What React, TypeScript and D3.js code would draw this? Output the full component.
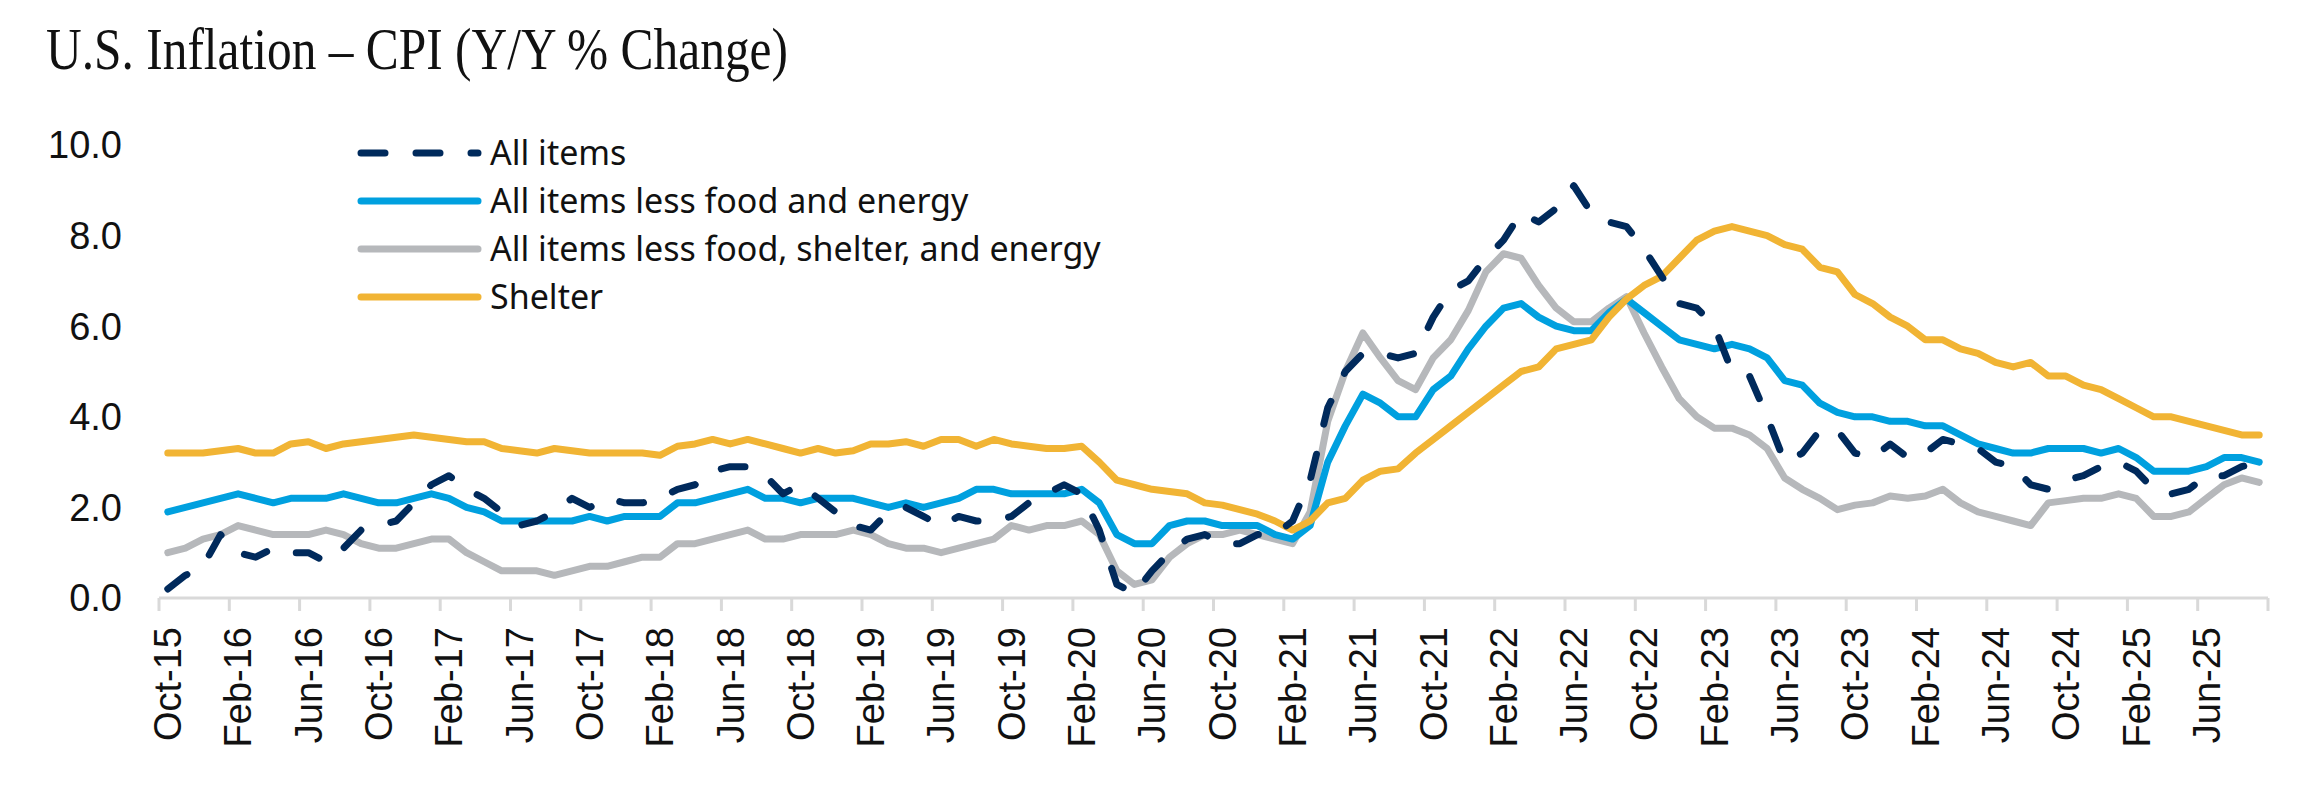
import * as d3 from 'd3'

// monthly, Oct-15 .. Sep-25 (Y/Y % change)
const months = d3.timeMonth.range(new Date(2015, 9, 1), new Date(2025, 9, 1))
const monthLabels = months.map(d => d3.timeFormat('%b-%y')(d))

const allItems = [
  0.2, 0.5, 0.7,
  1.4, 1.0, 0.9, 1.1, 1.0, 1.0, 0.8, 1.1, 1.5, 1.6, 1.7, 2.1,
  2.5, 2.7, 2.4, 2.2, 1.9, 1.6, 1.7, 1.9, 2.2, 2.0, 2.2, 2.1,
  2.1, 2.2, 2.4, 2.5, 2.8, 2.9, 2.9, 2.7, 2.3, 2.5, 2.2, 1.9,
  1.6, 1.5, 1.9, 2.0, 1.8, 1.6, 1.8, 1.7, 1.7, 1.8, 2.1, 2.3,
  2.5, 2.3, 1.5, 0.3, 0.1, 0.6, 1.0, 1.3, 1.4, 1.2, 1.2, 1.4,
  1.4, 1.7, 2.6, 4.2, 5.0, 5.4, 5.4, 5.3, 5.4, 6.2, 6.8, 7.0,
  7.5, 7.9, 8.5, 8.3, 8.6, 9.1, 8.5, 8.3, 8.2, 7.7, 7.1, 6.5,
  6.4, 6.0, 5.0, 4.9, 4.0, 3.0, 3.2, 3.7, 3.7, 3.2, 3.1, 3.4,
  3.1, 3.2, 3.5, 3.4, 3.3, 3.0, 2.9, 2.5, 2.4, 2.6, 2.7, 2.9,
  3.0, 2.8, 2.4, 2.3, 2.4, 2.7, 2.7, 2.9, 3.0
]

const lessFoodEnergy = [
  1.9, 2.0, 2.1,
  2.2, 2.3, 2.2, 2.1, 2.2, 2.2, 2.2, 2.3, 2.2, 2.1, 2.1, 2.2,
  2.3, 2.2, 2.0, 1.9, 1.7, 1.7, 1.7, 1.7, 1.7, 1.8, 1.7, 1.8,
  1.8, 1.8, 2.1, 2.1, 2.2, 2.3, 2.4, 2.2, 2.2, 2.1, 2.2, 2.2,
  2.2, 2.1, 2.0, 2.1, 2.0, 2.1, 2.2, 2.4, 2.4, 2.3, 2.3, 2.3,
  2.3, 2.4, 2.1, 1.4, 1.2, 1.2, 1.6, 1.7, 1.7, 1.6, 1.6, 1.6,
  1.4, 1.3, 1.6, 3.0, 3.8, 4.5, 4.3, 4.0, 4.0, 4.6, 4.9, 5.5,
  6.0, 6.4, 6.5, 6.2, 6.0, 5.9, 5.9, 6.3, 6.6, 6.3, 6.0, 5.7,
  5.6, 5.5, 5.6, 5.5, 5.3, 4.8, 4.7, 4.3, 4.1, 4.0, 4.0, 3.9,
  3.9, 3.8, 3.8, 3.6, 3.4, 3.3, 3.2, 3.2, 3.3, 3.3, 3.3, 3.2,
  3.3, 3.1, 2.8, 2.8, 2.8, 2.9, 3.1, 3.1, 3.0
]

const lessFoodShelterEnergy = [
  1.0, 1.1, 1.3,
  1.4, 1.6, 1.5, 1.4, 1.4, 1.4, 1.5, 1.4, 1.2, 1.1, 1.1, 1.2,
  1.3, 1.3, 1.0, 0.8, 0.6, 0.6, 0.6, 0.5, 0.6, 0.7, 0.7, 0.8,
  0.9, 0.9, 1.2, 1.2, 1.3, 1.4, 1.5, 1.3, 1.3, 1.4, 1.4, 1.4,
  1.5, 1.4, 1.2, 1.1, 1.1, 1.0, 1.1, 1.2, 1.3, 1.6, 1.5, 1.6,
  1.6, 1.7, 1.4, 0.6, 0.3, 0.4, 0.9, 1.2, 1.4, 1.4, 1.5, 1.4,
  1.3, 1.2, 1.9, 3.9, 5.0, 5.85, 5.3, 4.8, 4.6, 5.3, 5.7, 6.35,
  7.2, 7.6, 7.5, 6.9, 6.4, 6.1, 6.1, 6.4, 6.65, 5.85, 5.1, 4.4,
  4.0, 3.75, 3.75, 3.6, 3.3, 2.65, 2.4, 2.2, 1.95, 2.05, 2.1, 2.25,
  2.2, 2.25, 2.4, 2.1, 1.9, 1.8, 1.7, 1.6, 2.1, 2.15, 2.2, 2.2,
  2.3, 2.2, 1.8, 1.8, 1.9, 2.2, 2.5, 2.65, 2.55
]

const shelter = [
  3.2, 3.2, 3.2,
  3.25, 3.3, 3.2, 3.2, 3.4, 3.45, 3.3, 3.4, 3.45, 3.5, 3.55, 3.6,
  3.55, 3.5, 3.45, 3.45, 3.3, 3.25, 3.2, 3.3, 3.25, 3.2, 3.2, 3.2,
  3.2, 3.15, 3.35, 3.4, 3.5, 3.4, 3.5, 3.4, 3.3, 3.2, 3.3, 3.2,
  3.25, 3.4, 3.4, 3.45, 3.35, 3.5, 3.5, 3.35, 3.5, 3.4, 3.35, 3.3,
  3.3, 3.35, 3.0, 2.6, 2.5, 2.4, 2.35, 2.3, 2.1, 2.05, 1.95, 1.85,
  1.7, 1.5, 1.7, 2.1, 2.2, 2.6, 2.8, 2.85, 3.2, 3.5, 3.8, 4.1,
  4.4, 4.7, 5.0, 5.1, 5.5, 5.6, 5.7, 6.2, 6.6, 6.9, 7.1, 7.5,
  7.9, 8.1, 8.2, 8.1, 8.0, 7.8, 7.7, 7.3, 7.2, 6.7, 6.5, 6.2,
  6.0, 5.7, 5.7, 5.5, 5.4, 5.2, 5.1, 5.2, 4.9, 4.9, 4.7, 4.6,
  4.4, 4.2, 4.0, 4.0, 3.9, 3.8, 3.7, 3.6, 3.6
]

const yTicks = [0, 2, 4, 6, 8, 10]

const series = [
  { name: 'All items', values: allItems, color: '#002a5c', dashed: true },
  { name: 'All items less food and energy', values: lessFoodEnergy, color: '#00a0df', dashed: false },
  { name: 'All items less food, shelter, and energy', values: lessFoodShelterEnergy, color: '#b6b8bb', dashed: false },
  { name: 'Shelter', values: shelter, color: '#f1b434', dashed: false }
]
// draw order: gray, blue, gold, dashed navy on top
const drawOrder = [2, 1, 3, 0]

const W = 2323
const H = 787
const DASH = '24 31'

export default function App() {
  const x = d3.scaleBand<string>()
    .domain(monthLabels)
    .range([159, 2268])
    .padding(0)
  const y = d3.scaleLinear().domain([0, 10]).range([598, 145])
  const cx = (i: number) => x(monthLabels[i])! + x.bandwidth() / 2

  const line = d3.line<number>()
    .x((_, i) => cx(i))
    .y(d => y(d))

  const labelIdx = monthLabels.map((_, i) => i).filter(i => i % 4 === 0)
  const tickPos = d3.range(0, monthLabels.length + 1, 4).map(i => 159 + i * x.bandwidth())

  return (
    <>
      <style>{'body{margin:0}'}</style>
      <svg width={W} height={H} style={{ display: 'block', background: '#fff' }}>
        <text
          x={46}
          y={69}
          fontFamily="'Liberation Serif', 'DejaVu Serif', serif"
          fontSize={60}
          fill="#111"
          textLength={742}
          lengthAdjust="spacingAndGlyphs"
        >
          U.S. Inflation – CPI (Y/Y % Change)
        </text>

        {/* y axis labels */}
        {yTicks.map(t => (
          <text
            key={t}
            x={122}
            y={y(t)}
            dy="0.35em"
            textAnchor="end"
            fontFamily="'Liberation Sans', Arial, sans-serif"
            fontSize={38}
            fill="#111"
          >
            {d3.format('.1f')(t)}
          </text>
        ))}

        {/* x axis */}
        <line x1={159} x2={2268} y1={y(0)} y2={y(0)} stroke="#d9d9d9" strokeWidth={3} />
        {tickPos.map((p, i) => (
          <line key={i} x1={p} x2={p} y1={y(0)} y2={y(0) + 13} stroke="#d9d9d9" strokeWidth={3} />
        ))}
        {labelIdx.map(i => (
          <text
            key={i}
            transform={`translate(${cx(i)},627) rotate(-90)`}
            dy="0.35em"
            textAnchor="end"
            fontFamily="'Liberation Sans', Arial, sans-serif"
            fontSize={38}
            fill="#111"
          >
            {monthLabels[i]}
          </text>
        ))}

        {/* lines */}
        {drawOrder.map(k => {
          const s = series[k]
          return (
            <path
              key={s.name}
              d={line(s.values)!}
              fill="none"
              stroke={s.color}
              strokeWidth={7}
              strokeLinejoin="round"
              strokeLinecap="round"
              strokeDasharray={s.dashed ? DASH : undefined}
            />
          )
        })}

        {/* legend */}
        {series.map((s, i) => {
          const ly = 153 + i * 48
          return (
            <g key={s.name}>
              <line
                x1={361}
                x2={478}
                y1={ly}
                y2={ly}
                stroke={s.color}
                strokeWidth={7}
                strokeLinecap="round"
                strokeDasharray={s.dashed ? DASH : undefined}
              />
              <text
                x={490}
                y={ly}
                dy="0.35em"
                fontFamily="'Noto Sans', 'Open Sans', sans-serif"
                fontSize={34}
                fill="#111"
              >
                {s.name}
              </text>
            </g>
          )
        })}
      </svg>
    </>
  )
}
